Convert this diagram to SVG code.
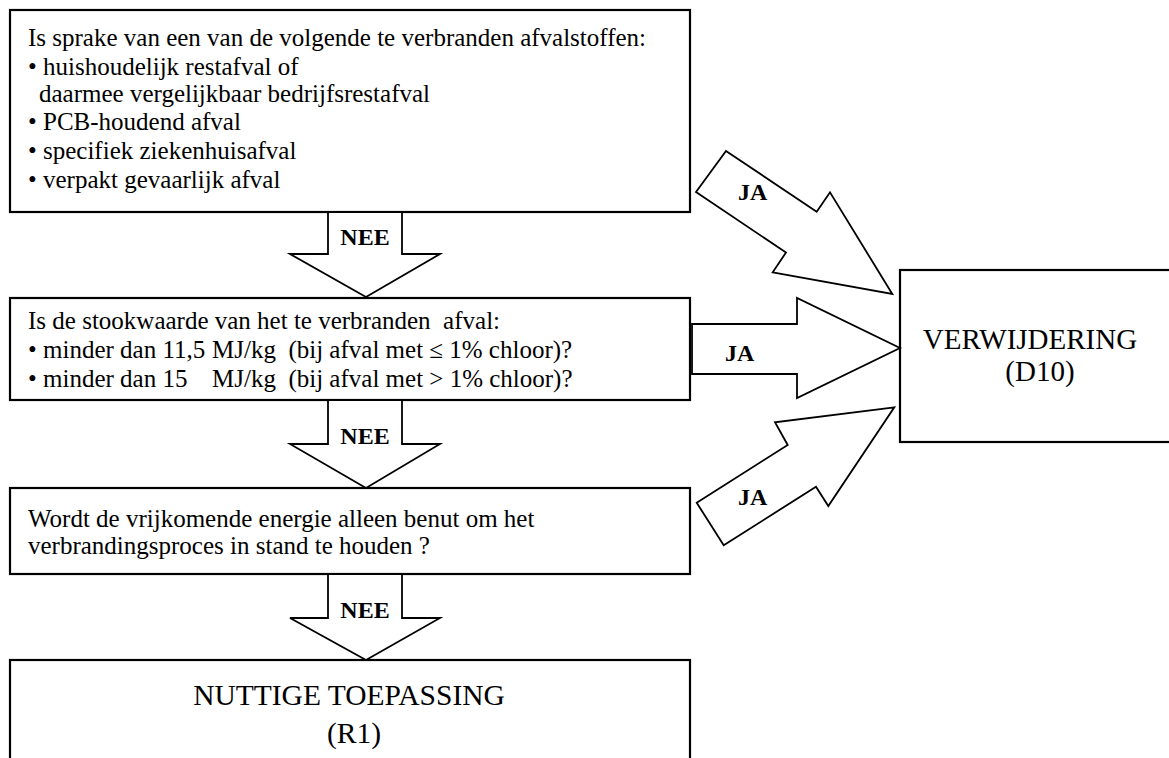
<svg xmlns="http://www.w3.org/2000/svg" width="1169" height="758" viewBox="0 0 1169 758">
<style>
.box{fill:#fff;stroke:#000;stroke-width:2.2}
.arr{fill:#fff;stroke:#000;stroke-width:1.8;stroke-linejoin:miter}
.big{text-anchor:middle}
</style>
<rect width="1169" height="758" fill="#fff"/>
<g fill="#000" font-family="'Liberation Serif', 'Times New Roman', serif">
<g id="q1" font-size="25">
<rect class="box" x="10" y="10" width="680" height="202"/>
<text x="28" y="46">Is sprake van een van de volgende te verbranden afvalstoffen:</text>
<text x="28" y="75">• huishoudelijk restafval of</text>
<text x="39" y="102">daarmee vergelijkbaar bedrijfsrestafval</text>
<text x="28" y="130">• PCB-houdend afval</text>
<text x="28" y="159">• specifiek ziekenhuisafval</text>
<text x="28" y="188">• verpakt gevaarlijk afval</text>
</g>
<g id="q2" font-size="25">
<rect class="box" x="10" y="298" width="680" height="102"/>
<text x="28" y="329" xml:space="preserve">Is de stookwaarde van het te verbranden  afval:</text>
<text x="28" y="358" xml:space="preserve">• minder dan 11,5 <tspan x="212">MJ/kg  (bij afval met ≤ 1% chloor)?</tspan></text>
<text x="28" y="387" xml:space="preserve">• minder dan 15 <tspan x="212">MJ/kg  (bij afval met &gt; 1% chloor)?</tspan></text>
</g>
<g id="q3" font-size="25">
<rect class="box" x="10" y="488" width="680" height="86"/>
<text x="28" y="527">Wordt de vrijkomende energie alleen benut om het</text>
<text x="28" y="554">verbrandingsproces in stand te houden ?</text>
</g>
<g id="r1" font-size="29.5">
<rect class="box" x="10" y="660" width="680" height="110"/>
<text class="big" x="349" y="705">NUTTIGE TOEPASSING</text>
<text class="big" x="354" y="743">(R1)</text>
</g>
<g id="d10" font-size="29">
<rect class="box" x="900" y="270" width="280" height="172"/>
<text class="big" x="1030" y="349">VERWIJDERING</text>
<text class="big" x="1040" y="381">(D10)</text>
</g>
<g id="connectors" font-size="24" font-weight="bold">
<polygon class="arr" points="328,212 402,212 402,254 440,254 366,297 290,254 328,254"/>
<text x="365" y="245" text-anchor="middle">NEE</text>
<polygon class="arr" points="328,400 402,400 402,444 440,444 366,488 290,444 328,444"/>
<text x="365" y="444" text-anchor="middle">NEE</text>
<polygon class="arr" points="328,574 402,574 402,618 440,618 366,660 290,618 328,618"/>
<text x="365" y="618" text-anchor="middle">NEE</text>
<polygon class="arr" points="692,324 797,324 797,298 900,348 797,398 797,374 692,374"/>
<text x="725" y="361">JA</text>
<polygon class="arr" points="726,151 816.7,211.7 830,192.3 892.3,294 772.7,272.3 786,252.5 696,192"/>
<text x="738" y="200">JA</text>
<polygon class="arr" points="696.7,502.7 787.7,445 775,422.3 894.3,407.3 828.3,506 816,486.7 723.7,545.3"/>
<text x="738" y="505">JA</text>
</g>
</g>
</svg>
